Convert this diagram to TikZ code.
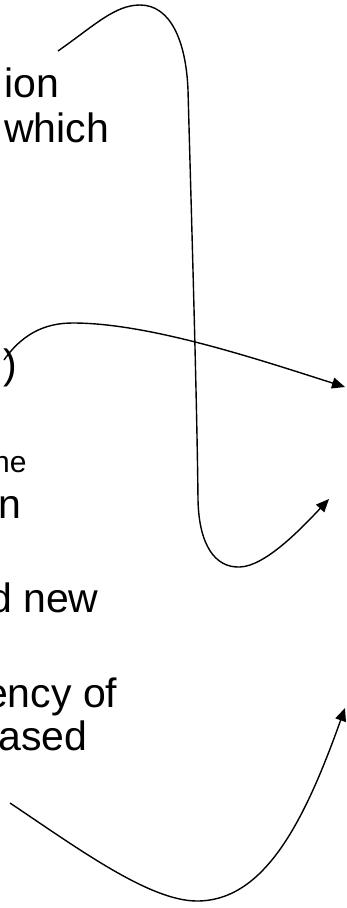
\documentclass[tikz,border=0pt]{standalone}
\usepackage{fontspec}
\setmainfont{Liberation Sans}
\usetikzlibrary{arrows.meta}
\definecolor{trazo}{gray}{0}

\begin{document}
\begin{tikzpicture}[
  x=1pt, y=-1pt,
  texto/.style={anchor=base west, inner sep=0pt, text=trazo,
                font=\fontsize{41}{46}\selectfont},
  textoChico/.style={texto, font=\fontsize{30}{34}\selectfont},
  flecha/.style={-{Triangle[length=13pt, width=11pt]}, draw=trazo,
                 line width=1.4pt}
]
\useasboundingbox (0,0) rectangle (346,908);
\clip (0,0) rectangle (346,908);

\node[texto] (t1) at (4,97) {ion};
\node[texto] (t2) at (4,142) {which};
\node[texto] (t3) at (-8,378) {.)};
\node[textoChico] (t4) at (-7,472) {ne};
\node[texto] (t5) at (-2,518) {n};
\node[texto] (t6) at (-11,612) {d new};
\node[texto] (t7) at (-15,707) {ency of};
\node[texto] (t8) at (-1.5,750) {ased};

% extremos de los conectores
\coordinate (ini1) at (58,51);
\coordinate (fin1) at (329,499);
\coordinate (ini2) at (4,360);
\coordinate (fin2) at (345,387);
\coordinate (ini3) at (10,803);
\coordinate (fin3) at (345,708);

\draw[flecha] (ini1) .. controls (95,25) and (115,5) .. (140,5)
  .. controls (170,5) and (186,40) .. (188,90)
  .. controls (191,200) and (197,400) .. (198,500)
  .. controls (199,545) and (215,568) .. (240,567)
  .. controls (265,566) and (300,530) .. (fin1);
\draw[flecha] (ini2) .. controls (25,330) and (50,323) .. (73,323)
  .. controls (150,323) and (260,360) .. (fin2);
\draw[flecha] (ini3) .. controls (80,850) and (150,901) .. (197,901)
  .. controls (265,901) and (305,820) .. (fin3);

\end{tikzpicture}
\end{document}
